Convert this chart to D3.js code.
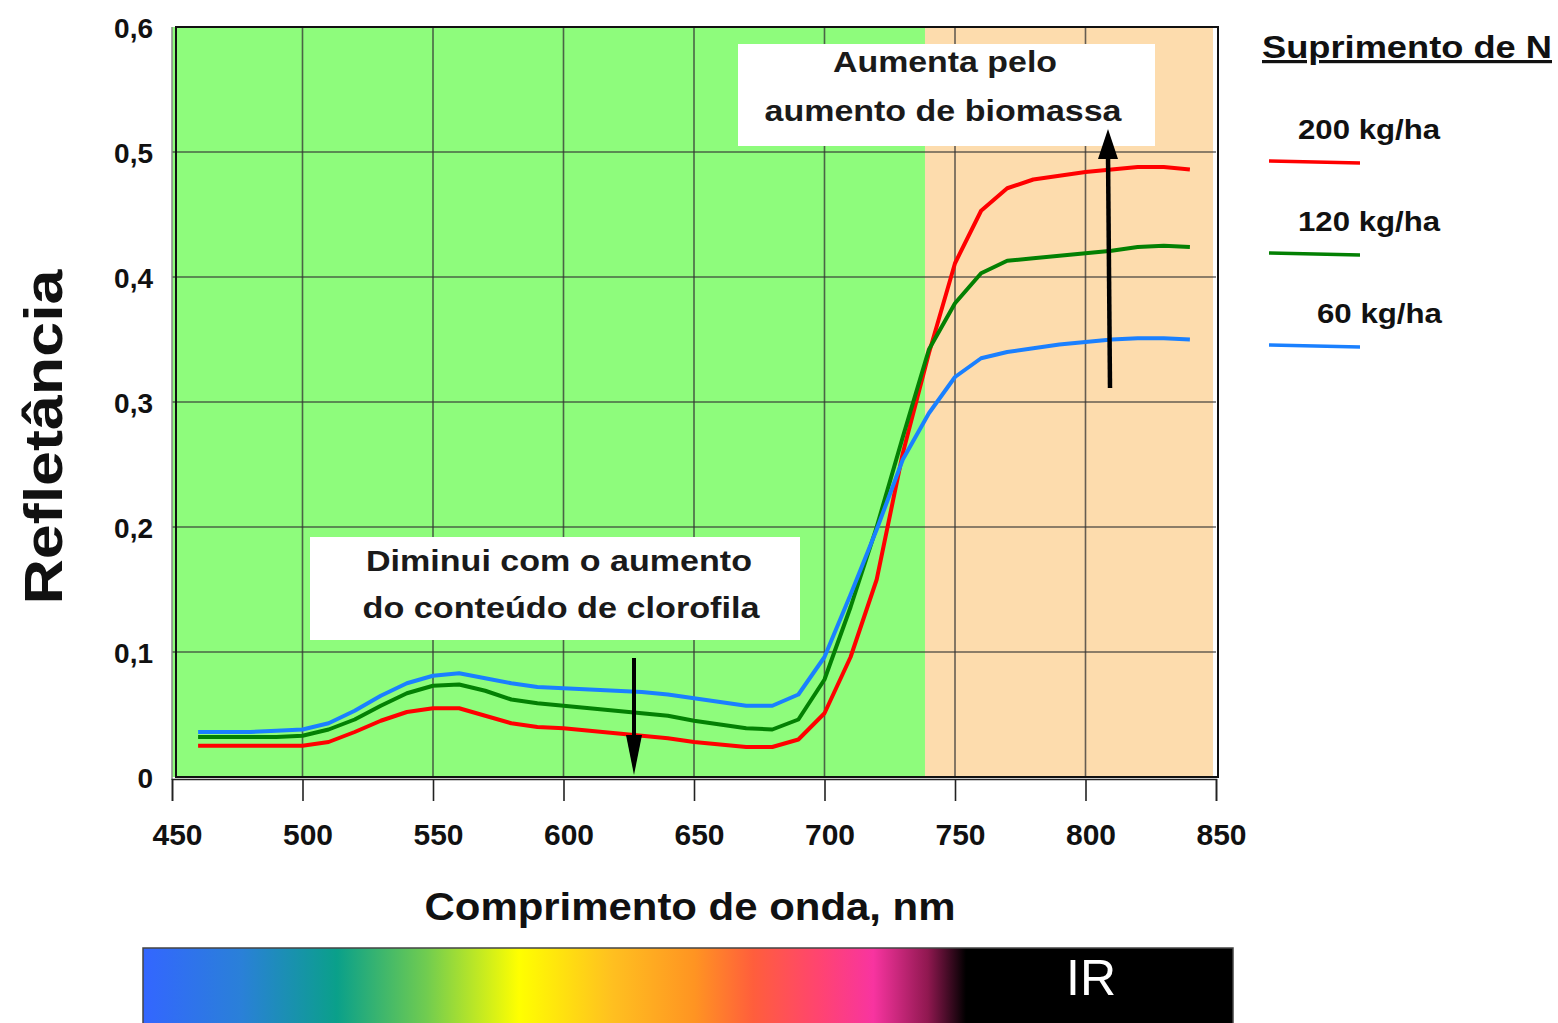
<html>
<head>
<meta charset="utf-8">
<title>Refletância x comprimento de onda</title>
<script src="https://cdn.jsdelivr.net/npm/d3@7"></script>
<style>
  body { margin: 0; background: #fff; }
  text { font-family: "Liberation Sans", Arial, sans-serif; }
</style>
</head>
<body>
<script>

// data
var wavelengths = d3.range(460, 841, 10);
var n200 = [0.025,0.025,0.025,0.025,0.025,0.028,0.036,0.045,0.052,0.055,0.055,0.049,0.043,0.040,0.039,0.037,0.035,0.033,0.031,0.028,0.026,0.024,0.024,0.030,0.051,0.096,0.158,0.259,0.339,0.411,0.453,0.471,0.478,0.481,0.484,0.486,0.488,0.488,0.486];
var n120 = [0.032,0.032,0.032,0.032,0.033,0.038,0.046,0.057,0.067,0.073,0.074,0.069,0.062,0.059,0.057,0.055,0.053,0.051,0.049,0.045,0.042,0.039,0.038,0.046,0.078,0.136,0.200,0.272,0.342,0.379,0.403,0.413,0.415,0.417,0.419,0.421,0.424,0.425,0.424];
var n60  = [0.036,0.036,0.036,0.037,0.038,0.043,0.053,0.065,0.075,0.081,0.083,0.079,0.075,0.072,0.071,0.070,0.069,0.068,0.066,0.063,0.060,0.057,0.057,0.066,0.096,0.146,0.198,0.254,0.291,0.320,0.335,0.340,0.343,0.346,0.348,0.350,0.351,0.351,0.350];
var seriesNames = ["200 kg/ha", "120 kg/ha", "60 kg/ha"];
var seriesColors = ["#ff0000", "#038003", "#1a80ff"];
var xTicks = [450, 500, 550, 600, 650, 700, 750, 800, 850];
var yTicks = [0, 0.1, 0.2, 0.3, 0.4, 0.5, 0.6];
var irStart = 738.5;

// view
var W = 1558, H = 1023;
var x = d3.scaleLinear().domain([450, 850]).range([172, 1216]);
var y = d3.scaleLinear().domain([0, 0.6]).range([777, 27]);

var svg = d3.select("body").append("svg")
  .attr("width", W).attr("height", H);

var defs = svg.append("defs");
var grad = defs.append("linearGradient").attr("id", "spectrum");
[[0, "#3366ff"], [0.09, "#2a80d8"], [0.178, "#0aa08a"], [0.26, "#70cc50"],
 [0.345, "#ffff00"], [0.43, "#ffc020"], [0.506, "#ff9422"], [0.56, "#ff5e3c"],
 [0.62, "#ff4470"], [0.67, "#f834a0"], [0.72, "#901850"], [0.755, "#000000"], [1, "#000000"]]
  .forEach(function(s) {
    grad.append("stop").attr("offset", s[0]).attr("stop-color", s[1]);
  });

// stretched bold text, the original is wider than the font
function label(px, py, str, size, len, anchor) {
  return svg.append("text")
    .attr("x", px).attr("y", py)
    .attr("text-anchor", anchor || "start")
    .attr("textLength", len).attr("lengthAdjust", "spacingAndGlyphs")
    .style("font-size", size + "px").style("font-weight", "bold").attr("fill", "#111")
    .text(str);
}

// plot background
svg.append("rect")
  .attr("x", x(450)).attr("y", y(0.6))
  .attr("width", x(irStart) - x(450)).attr("height", y(0) - y(0.6))
  .attr("fill", "#8efc7c");
svg.append("rect")
  .attr("x", x(irStart)).attr("y", y(0.6))
  .attr("width", x(850) - x(irStart) - 3).attr("height", y(0) - y(0.6))
  .attr("fill", "#fddcad");

// grid
svg.append("g").selectAll("line").data(xTicks.slice(1, -1)).enter().append("line")
  .attr("x1", function(d) { return x(d); }).attr("x2", function(d) { return x(d); })
  .attr("y1", y(0.6)).attr("y2", y(0))
  .attr("stroke", "#333").attr("stroke-opacity", 0.75).attr("stroke-width", 1.6);
svg.append("g").selectAll("line").data(yTicks.slice(1, -1)).enter().append("line")
  .attr("x1", x(450)).attr("x2", x(850))
  .attr("y1", function(d) { return y(d); }).attr("y2", function(d) { return y(d); })
  .attr("stroke", "#333").attr("stroke-opacity", 0.75).attr("stroke-width", 1.6);

// frame
svg.append("rect")
  .attr("x", x(450) + 4).attr("y", y(0.6))
  .attr("width", x(850) - x(450) - 2).attr("height", y(0) - y(0.6))
  .attr("fill", "none").attr("stroke", "#111").attr("stroke-width", 2);
svg.append("line")
  .attr("x1", x(450)).attr("x2", x(450)).attr("y1", y(0.6)).attr("y2", y(0) + 3)
  .attr("stroke", "#888").attr("stroke-width", 1.5);

// x axis
var xAxis = d3.axisBottom(x).tickValues(xTicks).tickSize(22).tickFormat(d3.format("d"));
var gx = svg.append("g").attr("transform", "translate(0," + (y(0) + 2) + ")").call(xAxis);
gx.select(".domain").attr("stroke", "#222").attr("stroke-width", 1.5);
gx.selectAll(".tick line").attr("stroke", "#222").attr("stroke-width", 1.6);
gx.selectAll(".tick text")
  .attr("dy", "1.38em").attr("dx", 5)
  .style("font-family", "'Liberation Sans Narrow', 'Arial Narrow', sans-serif")
  .style("font-size", "30px").style("font-weight", "bold").attr("fill", "#111");

// y axis
var yAxis = d3.axisLeft(y).tickValues(yTicks).tickSize(0)
  .tickFormat(function(d) { return d === 0 ? "0" : d3.format(".1f")(d).replace(".", ","); });
var gy = svg.append("g").attr("transform", "translate(" + (x(450) - 16) + ",0)").call(yAxis);
gy.select(".domain").remove();
gy.selectAll(".tick text")
  .attr("dy", "0.36em")
  .style("font-size", "28px").style("font-weight", "bold").attr("fill", "#111");

// lines
var allSeries = [n200, n120, n60];
var line = d3.line()
  .x(function(d, i) { return x(wavelengths[i]); })
  .y(function(d) { return y(d); });
svg.append("g").selectAll("path").data(allSeries).enter().append("path")
  .attr("d", line)
  .attr("fill", "none")
  .attr("stroke", function(d, i) { return seriesColors[i]; })
  .attr("stroke-width", 4)
  .attr("stroke-linejoin", "round");

// annotation boxes
svg.append("rect").attr("x", 738).attr("y", 44).attr("width", 417).attr("height", 102).attr("fill", "#fff");
label(945, 72, "Aumenta pelo", 30, 224, "middle").attr("fill", "#1a1a1a");
label(943, 121, "aumento de biomassa", 30, 357, "middle").attr("fill", "#1a1a1a");
svg.append("rect").attr("x", 310).attr("y", 537).attr("width", 490).attr("height", 103).attr("fill", "#fff");
label(559, 571, "Diminui com o aumento", 30, 386, "middle").attr("fill", "#1a1a1a");
label(561, 618, "do conteúdo de clorofila", 30, 397, "middle").attr("fill", "#1a1a1a");

// arrows
function arrow(x0, y0, x1, y1, headLen, headHalf, width) {
  var dir = y1 > y0 ? 1 : -1;
  svg.append("line")
    .attr("x1", x0).attr("y1", y0).attr("x2", x1).attr("y2", y1 - dir * headLen * 0.8)
    .attr("stroke", "#000").attr("stroke-width", width);
  svg.append("path")
    .attr("d", "M" + (x1 - headHalf) + "," + (y1 - dir * headLen) +
               " L" + (x1 + headHalf) + "," + (y1 - dir * headLen) +
               " L" + x1 + "," + y1 + " Z")
    .attr("fill", "#000");
}
arrow(634, 658, 634, 775, 40, 8, 4);
arrow(1110, 388, 1108, 129, 30, 10, 4.5);

// axis titles
label(0, 0, "Refletância", 54, 335, "middle")
  .attr("x", null).attr("y", null)
  .attr("transform", "translate(62,437) rotate(-90)");
label(690, 920, "Comprimento de onda, nm", 38, 531, "middle");

// legend
label(1262, 58, "Suprimento de N", 32, 290)
  .style("text-decoration", "underline");
var legendTextX = [1298, 1298, 1317];
var legendTextW = [142, 142, 125];
seriesNames.forEach(function(name, i) {
  var base = 139 + i * 92;
  label(legendTextX[i], base, name, 28, legendTextW[i]);
  svg.append("line")
    .attr("x1", 1269).attr("x2", 1360)
    .attr("y1", base + 22).attr("y2", base + 24)
    .attr("stroke", seriesColors[i]).attr("stroke-width", 3.5);
});

// spectrum bar
svg.append("rect")
  .attr("x", 143).attr("y", 948).attr("width", 1090).attr("height", 80)
  .attr("fill", "url(#spectrum)").attr("stroke", "#444").attr("stroke-width", 1.5);
svg.append("text")
  .attr("x", 1091).attr("y", 995)
  .attr("text-anchor", "middle")
  .style("font-family", "'Liberation Sans Narrow', 'Arial Narrow', sans-serif")
  .style("font-size", "50px").attr("fill", "#fff")
  .text("IR");

</script>
</body>
</html>
